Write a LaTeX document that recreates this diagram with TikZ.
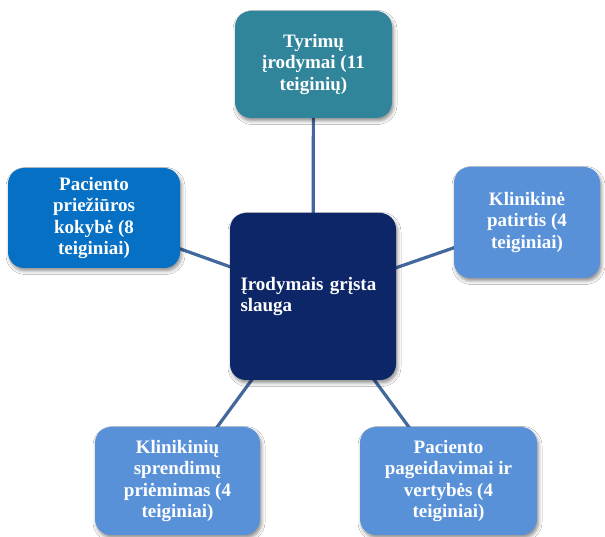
\documentclass[tikz,border=0pt]{standalone}
\usepackage{fontspec}
\setmainfont{Liberation Serif}
\usetikzlibrary{shadows.blur,backgrounds}

\definecolor{tealbox}{RGB}{49,133,155}
\definecolor{navybox}{RGB}{12,38,104}
\definecolor{bluebox}{RGB}{6,112,196}
\definecolor{lightbox}{RGB}{88,145,216}
\definecolor{linkcol}{RGB}{66,104,158}

\tikzset{
  x=1pt, y=1pt,
  card/.style={
    draw=none, rounded corners=16pt, text=white, align=center,
    font=\fontsize{19}{21.5}\selectfont\bfseries, inner sep=2pt,
    blur shadow={shadow xshift=1.5pt, shadow yshift=-3pt,
                 shadow blur radius=3.5pt, shadow opacity=45}
  },
  link/.style={draw=linkcol, line width=3.2pt}
}

\begin{document}
\begin{tikzpicture}
  \useasboundingbox (0,0) rectangle (605,537);

  % central concept
  \node[card, fill=navybox, minimum width=166pt, minimum height=167pt,
        align=left, text width=145pt] (core) at (313,240.5)
        {Įrodymais grįsta\\slauga};

  % surrounding statements
  \node[card, fill=tealbox, minimum width=157pt, minimum height=107pt]
        (tyrimai) at (313.5,472.5) {Tyrimų\\įrodymai (11\\teiginių)};
  \node[card, fill=bluebox, minimum width=172pt, minimum height=100pt]
        (kokybe) at (94,319) {Paciento\\priežiūros\\kokybė (8\\teiginiai)};
  \node[card, fill=lightbox, minimum width=146pt, minimum height=111pt]
        (patirtis) at (527,314.5) {Klinikinė\\patirtis (4\\teiginiai)};
  \node[card, fill=lightbox, minimum width=165pt, minimum height=108pt]
        (sprendimai) at (177.5,56) {Klinikinių\\sprendimų\\priėmimas (4\\teiginiai)};
  \node[card, fill=lightbox, minimum width=177pt, minimum height=108pt]
        (vertybes) at (448.5,56) {Paciento\\pageidavimai ir\\vertybės (4\\teiginiai)};

  % white page, then spokes from centre to centre underneath the cards
  \begin{pgfonlayer}{background}
    \fill[white] (0,0) rectangle (605,537);
    \draw[link] (core.center) -- (tyrimai.center);
    \draw[link] (core.center) -- (kokybe.center);
    \draw[link] (core.center) -- (patirtis.center);
    \draw[link] (core.center) -- (sprendimai.center);
    \draw[link] (core.center) -- (vertybes.center);
  \end{pgfonlayer}
\end{tikzpicture}
\end{document}
